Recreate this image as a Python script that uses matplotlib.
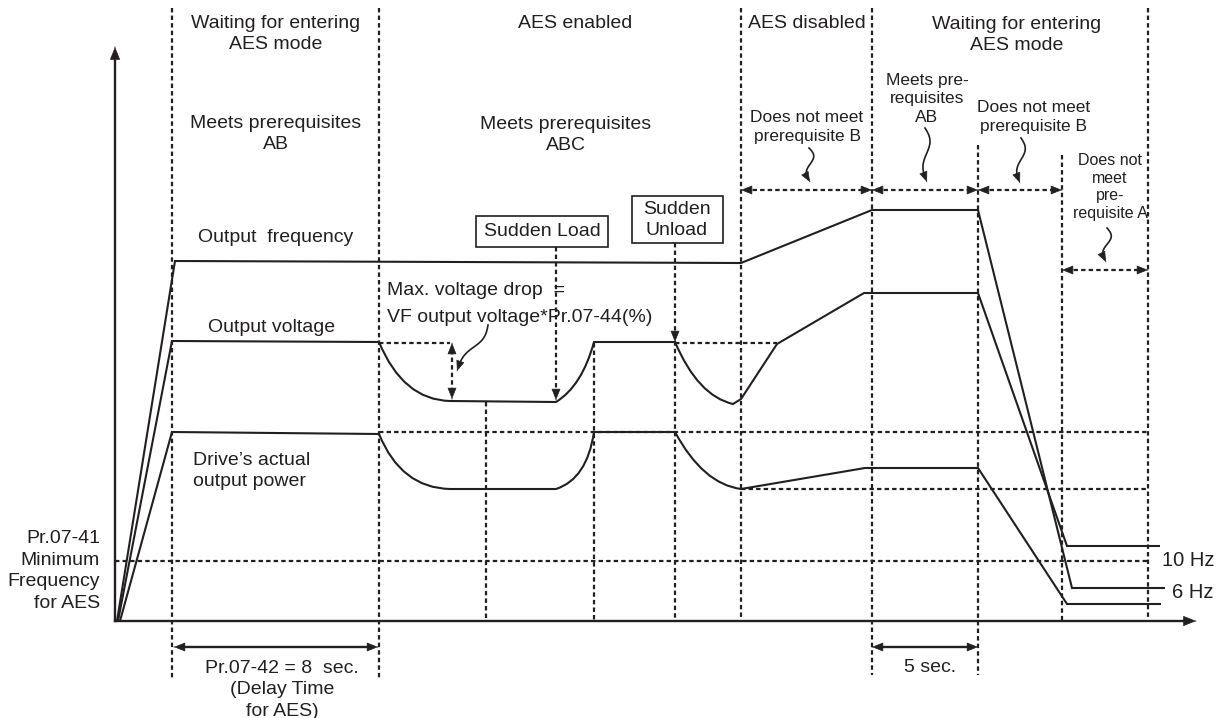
import matplotlib.pyplot as plt
import numpy as np
from matplotlib.path import Path
from matplotlib.patches import PathPatch, Rectangle

plt.rcParams['font.family'] = ['Liberation Sans', 'DejaVu Sans']

ink = '#231f20'
M, L, C = Path.MOVETO, Path.LINETO, Path.CURVE3

# traces in diagram pixel units (x = time, y = level, 0 at top)
freq_pts = [(117, 621), (175, 261), (741, 263), (872, 210), (978, 210), (1072, 588), (1165, 588)]
freq_codes = [M, L, L, L, L, L, L]

volt_pts = [(118, 621), (172, 341), (379, 342), (403, 400), (450, 401), (556, 402),
            (582, 386), (594, 342), (675, 342), (698, 396), (733, 404), (741, 399),
            (777, 344), (864, 293), (978, 293), (1067, 546), (1160, 546)]
volt_codes = [M, L, L, C, C, L, C, C, L, C, C, L, L, L, L, L, L]

power_pts = [(120, 621), (172, 432), (379, 434), (401, 488), (450, 489), (556, 489),
             (587, 479), (594, 432), (675, 432), (703, 484), (741, 489), (865, 468),
             (978, 468), (1067, 604), (1161, 604)]
power_codes = [M, L, L, C, C, L, C, C, L, C, C, L, L, L, L]

# dotted guides
vline_x = [172, 379, 486, 556, 594, 675, 741, 872, 978, 1062, 1148]
vline_top = [8, 8, 402, 247, 343, 243, 8, 8, 145, 155, 8]
vline_bot = [680, 680, 621, 398, 621, 621, 621, 675, 675, 621, 621]

hline_y = [343, 343, 432, 489, 561]
hline_x0 = [379, 675, 379, 741, 115]
hline_x1 = [450, 777, 1148, 1148, 1148]

span_x0 = [741, 872, 978, 1062]
span_x1 = [872, 978, 1062, 1148]
span_y = [190, 190, 190, 270]

fig = plt.figure(figsize=(12.2, 7.18), dpi=100)
ax = fig.add_axes([0, 0, 1, 1])
ax.set_xlim(0, 1220)
ax.set_ylim(718, 0)
ax.axis('off')

dot = (0, (2.0, 1.4))
dlw = 1.6


def head(x, y, dx, dy, size=13):
    ax.annotate('', xy=(x, y), xytext=(x - dx * 0.01, y - dy * 0.01),
                arrowprops=dict(arrowstyle='-|>,head_length=0.55,head_width=0.22',
                                color=ink, lw=0.5, shrinkA=0, shrinkB=0,
                                mutation_scale=size))


def wiggle(x0, y0, x1, y1, amp=5):
    t = np.linspace(0, 1, 40)
    dx, dy = x1 - x0, y1 - y0
    n = np.hypot(dx, dy)
    px, py = -dy / n, dx / n
    off = -amp * np.sin(2 * np.pi * t) * (1 - 0.4 * t)
    xs = x0 + dx * t + px * off
    ys = y0 + dy * t + py * off
    ax.plot(xs[:-3], ys[:-3], color=ink, lw=1.2)
    head(x1, y1, x1 - xs[-6], y1 - ys[-6], size=12)


for x, y0, y1 in zip(vline_x, vline_top, vline_bot):
    ax.plot([x, x], [y0, y1], color=ink, lw=dlw, ls=dot)
for y, x0, x1 in zip(hline_y, hline_x0, hline_x1):
    ax.plot([x0, x1], [y, y], color=ink, lw=dlw, ls=dot)
for x0, x1, y in zip(span_x0, span_x1, span_y):
    ax.plot([x0 + 4, x1 - 4], [y, y], color=ink, lw=dlw, ls=dot)
    head(x0, y, -1, 0)
    head(x1, y, 1, 0)

# axes
ax.plot([115, 115], [621, 55], color=ink, lw=1.7)
head(115, 47, 0, -1, size=15)
ax.plot([115, 1188], [621, 621], color=ink, lw=1.7)
head(1196, 621, 1, 0, size=15)

for pts, codes in [(freq_pts, freq_codes), (volt_pts, volt_codes), (power_pts, power_codes)]:
    ax.add_patch(PathPatch(Path(pts, codes), fill=False, edgecolor=ink, lw=1.5,
                           capstyle='butt', joinstyle='miter'))

# event arrows
head(556, 400, 0, 1)
head(675, 342, 0, 1)
ax.plot([452, 452], [350, 392], color=ink, lw=dlw, ls=dot)
head(452, 343, 0, -1)
head(452, 399, 0, 1)

# boxes
ax.add_patch(Rectangle((476, 216), 132, 31, fill=False, edgecolor=ink, lw=1.2))
ax.add_patch(Rectangle((632, 196), 91, 47, fill=False, edgecolor=ink, lw=1.2))

fs = 14
txt = dict(color=ink, fontsize=fs, ha='center', va='center', linespacing=1.38)
ax.text(276, 34, 'Waiting for entering\nAES mode', **txt)
ax.text(575, 24, 'AES enabled', **txt)
ax.text(807, 24, 'AES disabled', **txt)
ax.text(1017, 35, 'Waiting for entering\nAES mode', **txt)
ax.text(276, 134, 'Meets prerequisites\nAB', **txt)
ax.text(566, 135, 'Meets prerequisites\nABC', **txt)
ax.text(276, 237, 'Output  frequency', **txt)
ax.text(272, 328, 'Output voltage', **txt)
ax.text(542, 232, 'Sudden Load', **txt)
ax.text(677, 220, 'Sudden\nUnload', color=ink, fontsize=fs, ha='center', va='center',
        linespacing=1.25)
ax.text(387, 304, 'Max. voltage drop  =\nVF output voltage*Pr.07-44(%)',
        color=ink, fontsize=fs, ha='left', va='center', linespacing=1.75)
ax.text(193, 471, 'Drive\u2019s actual\noutput power',
        color=ink, fontsize=fs, ha='left', va='center', linespacing=1.3)
ax.text(100, 571, 'Pr.07-41\nMinimum\nFrequency\nfor AES',
        color=ink, fontsize=fs, ha='right', va='center', linespacing=1.35)
ax.text(1162, 560, '10 Hz', color=ink, fontsize=fs + 0.5, ha='left', va='center')
ax.text(1172, 593, '6 Hz', color=ink, fontsize=fs + 0.5, ha='left', va='center')
ax.text(282, 690, 'Pr.07-42 = 8  sec.\n(Delay Time\nfor AES)', **txt)
ax.text(930, 668, '5 sec.', **txt)

small = dict(color=ink, fontsize=12.5, ha='center', va='center', linespacing=1.38)
ax.text(807, 127, 'Does not meet\nprerequisite B', **small)
ax.text(927, 99, 'Meets pre-\nrequisites\nAB', color=ink, fontsize=12.5, ha='center',
        va='center', linespacing=1.3)
ax.text(1034, 117, 'Does not meet\nprerequisite B', **small)
ax.text(1110, 187, 'Does not\nmeet\npre-\nrequisite A', color=ink, fontsize=11.5,
        ha='center', va='center', linespacing=1.2)

wiggle(809, 148, 810, 182)
wiggle(925, 128, 927, 182)
wiggle(1021, 138, 1020, 183)
wiggle(1107, 228, 1106, 262)
wiggle(488, 325, 457, 371, amp=4)

# bottom spans
ax.plot([180, 372], [647, 647], color=ink, lw=1.7)
head(174, 647, -1, 0)
head(378, 647, 1, 0)
ax.plot([878, 972], [647, 647], color=ink, lw=1.7)
head(872, 647, -1, 0)
head(978, 647, 1, 0)

fig.savefig('out.png', dpi=100)
